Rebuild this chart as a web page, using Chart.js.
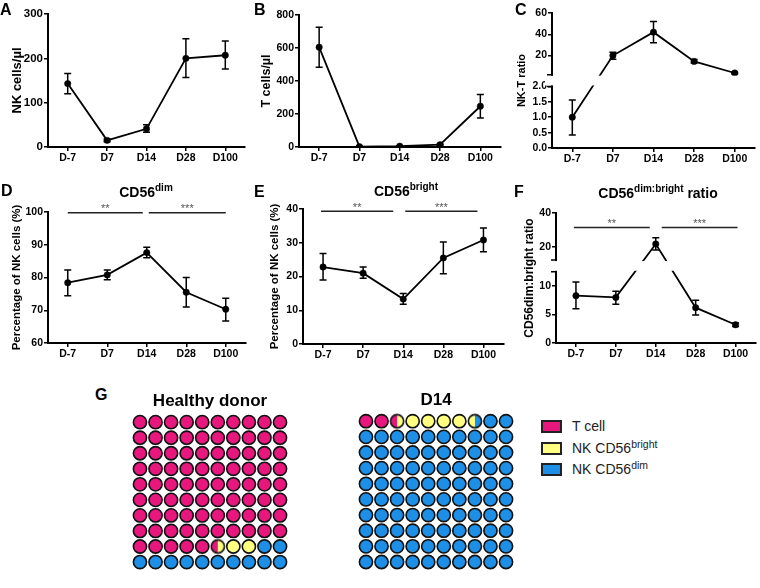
<!DOCTYPE html>
<html>
<head>
<meta charset="utf-8">
<script src="https://cdn.jsdelivr.net/npm/chart.js@4.4.0/dist/chart.umd.min.js"></script>
<style>
body { margin: 0; background: #fff; }
#wrap { position: relative; width: 760px; height: 588px; overflow: hidden; font-family: "Liberation Sans", Arial, sans-serif; color: #000; }
canvas { position: absolute; }
.let { position: absolute; font-weight: bold; font-size: 16px; line-height: 16px; }
.ttl { position: absolute; width: 220px; text-align: center; font-weight: bold; font-size: 14px; line-height: 14px; white-space: nowrap; }
.sup { position: relative; top: -6px; font-size: 10px; }
.key { position: absolute; left: 541px; width: 21px; height: 13px; box-sizing: border-box; border: 2px solid #222; }
.keytxt { position: absolute; left: 572px; font-size: 14px; line-height: 13px; color: #222; white-space: nowrap; }
.sup2 { position: relative; top: -5px; font-size: 10.5px; }
</style>
</head>
<body>
<div id="wrap">
  <canvas id="cA"></canvas>
  <canvas id="cB"></canvas>
  <canvas id="cC"></canvas>
  <canvas id="cD"></canvas>
  <canvas id="cE"></canvas>
  <canvas id="cF"></canvas>
  <canvas id="gH"></canvas>
  <canvas id="gD"></canvas>

  <div class="let" style="left:0px;top:2px">A</div>
  <div class="let" style="left:254px;top:2px">B</div>
  <div class="let" style="left:515px;top:2px">C</div>
  <div class="let" style="left:1px;top:183px">D</div>
  <div class="let" style="left:254px;top:184px">E</div>
  <div class="let" style="left:514px;top:184px">F</div>
  <div class="let" style="left:95px;top:387px">G</div>

  <div class="ttl" style="left:36px;top:185px">CD56<span class="sup">dim</span></div>
  <div class="ttl" style="left:296px;top:184px">CD56<span class="sup">bright</span></div>
  <div class="ttl" style="left:548px;top:186px">CD56<span class="sup">dim:bright</span> ratio</div>

  <div class="key" style="top:420px;background:#E8177D"></div>
  <div class="keytxt" style="top:420px">T cell</div>
  <div class="key" style="top:442px;background:#FFFF80"></div>
  <div class="keytxt" style="top:442px">NK CD56<span class="sup2">bright</span></div>
  <div class="key" style="top:463px;background:#1E8FE6"></div>
  <div class="keytxt" style="top:463px">NK CD56<span class="sup2">dim</span></div>
</div>

<script>
Chart.defaults.font.family = '"Liberation Sans", Arial, sans-serif';
Chart.defaults.color = '#000';

// ---- data ----
var days = ['D-7', 'D7', 'D14', 'D28', 'D100'];

var nkCells = [143, 15, 41, 200, 207];
var nkLow   = [120, 12, 33, 157, 176];
var nkHigh  = [166, 18, 50, 244, 239];

var tCells = [605, 2, 5, 14, 247];
var tLow   = [483, 0, 3, 10, 176];
var tHigh  = [726, 4, 8, 18, 318];

var nkTRatio = [1.0, 20, 42, 14.5, 3.6];
var nkTLow   = [0.42, 16.5, 32, 13, 3];
var nkTHigh  = [1.56, 23, 52, 16.2, 4.2];
var nkTTicks = [0, 0.5, 1, 1.5, 2, 20, 40, 60];

var dimPct  = [78.4, 80.8, 87.6, 75.5, 70.3];
var dimLow  = [74.4, 79.3, 86.0, 71.0, 66.7];
var dimHigh = [82.3, 82.3, 89.2, 80.0, 73.7];

var brightPct  = [22.8, 21.0, 13.3, 25.5, 30.8];
var brightLow  = [19.0, 19.5, 11.8, 20.8, 27.3];
var brightHigh = [26.8, 22.8, 15.0, 30.2, 34.4];

var dimBright      = [8.3, 8.0, 21.9, 6.2, 3.2];
var dimBrightLow   = [6.0, 6.8, 18.4, 4.9, 2.9];
var dimBrightHigh  = [10.7, 9.1, 25.5, 7.5, 3.5];
var dimBrightTicks = [0, 5, 10, 20, 40];

// significance bars: [from index, to index, y value, label]
var sigDim    = [[0, 1.9, 99.8, '**'], [2.05, 4, 99.8, '***']];
var sigBright = [[-0.05, 1.75, 39.3, '**'], [2.05, 3.85, 39.3, '***']];
var sigRatio  = [[-0.05, 1.85, 31.5, '**'], [2.15, 4.05, 31.5, '***']];

// waffle composition (% of 100 dots): T cell, NK CD56bright, NK CD56dim
var healthyMix = [85.5, 2.5, 12];
var d14Mix     = [2.5, 5, 92.5];

var cellColors = ['#E8177D', '#FFFF80', '#1E8FE6'];

// ---- y scale with a break (GraphPad style) ----
class BrokenScale extends Chart.LinearScale {
  buildTicks() {
    return this.options.brk.ticks.map(function(v) { return { value: v }; });
  }
  gapPixels() {
    var b = this.options.brk, h = this.bottom - this.top;
    var lowTop = this.bottom - h * b.lowFrac;
    return [lowTop - h * b.gapFrac, lowTop];
  }
  getPixelForValue(v) {
    var b = this.options.brk, g = this.gapPixels();
    if (v <= b.lowMax) return this.bottom - (v - this.min) / (b.lowMax - this.min) * (this.bottom - g[1]);
    return g[0] - (v - b.highMin) / (this.max - b.highMin) * (g[0] - this.top);
  }
  getValueForPixel(p) {
    var b = this.options.brk, g = this.gapPixels();
    if (p >= g[1]) return this.min + (this.bottom - p) / (this.bottom - g[1]) * (b.lowMax - this.min);
    return b.highMin + (g[0] - p) / (g[0] - this.top) * (this.max - b.highMin);
  }
}
BrokenScale.id = 'broken';
BrokenScale.defaults = Chart.LinearScale.defaults;
Chart.register(BrokenScale);

function errorBars(low, high) {
  return {
    id: 'errorBars',
    afterDatasetsDraw: function(chart) {
      var ctx = chart.ctx, ys = chart.scales.y;
      var pts = chart.getDatasetMeta(0).data;
      ctx.save();
      ctx.strokeStyle = '#000';
      ctx.lineWidth = 1.5;
      pts.forEach(function(p, i) {
        var y1 = ys.getPixelForValue(low[i]), y2 = ys.getPixelForValue(high[i]);
        ctx.beginPath();
        ctx.moveTo(p.x, y1); ctx.lineTo(p.x, y2);
        ctx.moveTo(p.x - 3.5, y1); ctx.lineTo(p.x + 3.5, y1);
        ctx.moveTo(p.x - 3.5, y2); ctx.lineTo(p.x + 3.5, y2);
        ctx.stroke();
      });
      ctx.restore();
    }
  };
}

function sigBars(bars) {
  return {
    id: 'sigBars',
    afterDraw: function(chart) {
      var ctx = chart.ctx, xs = chart.scales.x, ys = chart.scales.y;
      ctx.save();
      bars.forEach(function(b) {
        var x1 = xs.getPixelForValue(b[0]), x2 = xs.getPixelForValue(b[1]);
        var y = ys.getPixelForValue(b[2]);
        ctx.strokeStyle = '#222';
        ctx.lineWidth = 1.5;
        ctx.beginPath(); ctx.moveTo(x1, y); ctx.lineTo(x2, y); ctx.stroke();
        ctx.fillStyle = '#555';
        ctx.font = '11px "Liberation Sans", Arial, sans-serif';
        ctx.textAlign = 'center';
        ctx.textBaseline = 'alphabetic';
        ctx.fillText(b[3], (x1 + x2) / 2, y - 0.5);
      });
      ctx.restore();
    }
  };
}

var brokenAxis = {
  id: 'brokenAxis',
  afterDraw: function(chart) {
    var ys = chart.scales.y;
    if (!ys.gapPixels) return;
    var g = ys.gapPixels(), a = chart.chartArea, ctx = chart.ctx;
    ctx.save();
    ctx.fillStyle = '#fff';
    ctx.fillRect(a.left - 7, g[0] + 1, a.right - a.left + 8, g[1] - g[0] - 2);
    ctx.strokeStyle = '#000';
    ctx.lineWidth = 1.5;
    ctx.beginPath();
    ctx.moveTo(a.left - 5, g[0]); ctx.lineTo(a.left + 1, g[0]);
    ctx.moveTo(a.left - 5, g[1]); ctx.lineTo(a.left + 1, g[1]);
    ctx.stroke();
    ctx.restore();
  }
};

// box = canvas [left, top, w, h], area = plot area [left, top, right, bottom] in page px
function makeLine(id, box, area, values, low, high, opt) {
  var cv = document.getElementById(id);
  cv.width = box[2]; cv.height = box[3];
  cv.style.left = box[0] + 'px'; cv.style.top = box[1] + 'px';
  var plugins = [errorBars(low, high)];
  if (opt.sig) plugins.push(sigBars(opt.sig));
  if (opt.brk) plugins.push(brokenAxis);

  return new Chart(cv, {
    type: 'line',
    data: {
      labels: days,
      datasets: [{
        data: values,
        borderColor: '#000',
        borderWidth: 1.8,
        pointRadius: 3.2,
        pointBorderWidth: 0.5,
        pointBackgroundColor: '#000',
        pointBorderColor: '#000',
        tension: 0,
        fill: false
      }]
    },
    options: {
      responsive: false,
      animation: false,
      devicePixelRatio: 1,
      layout: { padding: { left: 0, bottom: 0, top: area[1] - box[1], right: box[0] + box[2] - area[2] } },
      plugins: { legend: { display: false }, tooltip: { enabled: false } },
      scales: {
        x: {
          type: 'category',
          offset: true,
          ticks: { font: { size: 10.5, weight: 'bold' }, padding: 1, maxRotation: 0, autoSkip: false },
          grid: { drawOnChartArea: false, offset: false, tickLength: 4, color: '#000', lineWidth: 1.5 },
          border: { color: '#000', width: 2 },
          afterFit: function(s) { s.height = box[1] + box[3] - area[3]; }
        },
        y: {
          type: opt.brk ? 'broken' : 'linear',
          min: opt.min,
          max: opt.max,
          brk: opt.brk,
          ticks: {
            stepSize: opt.step,
            autoSkip: false,
            padding: 1,
            font: { size: opt.tickSize || 10.5, weight: 'bold' },
            callback: opt.fmt || function(v) { return v; }
          },
          grid: { drawOnChartArea: false, tickLength: 4, color: '#000', lineWidth: 1.5 },
          border: { color: '#000', width: 2 },
          title: {
            display: true,
            text: opt.title,
            font: { size: opt.titleSize, weight: 'bold' },
            padding: { top: opt.titleX - opt.titleSize * 0.6, bottom: 0 }
          },
          afterFit: function(s) { s.width = area[0] - box[0]; }
        }
      }
    },
    plugins: plugins
  });
}

makeLine('cA', [0, 0, 250, 170], [48, 14, 245, 147], nkCells, nkLow, nkHigh,
  { min: 0, max: 300, step: 100, title: 'NK cells/\u00b5l', titleSize: 13, titleX: 17, tickSize: 11.5 });

makeLine('cB', [250, 0, 255, 170], [299, 15, 503, 147], tCells, tLow, tHigh,
  { min: 0, max: 800, step: 200, title: 'T cells/\u00b5l', titleSize: 12.5, titleX: 17 });

makeLine('cC', [505, 0, 255, 170], [552, 13, 755, 148], nkTRatio, nkTLow, nkTHigh,
  { min: 0, max: 60, title: 'NK-T ratio', titleSize: 11, titleX: 17,
    brk: { ticks: nkTTicks, lowMax: 2, highMin: 2, lowFrac: 0.456, gapFrac: 0.087 },
    fmt: function(v) { return v <= 2 ? v.toFixed(1) : v; } });

makeLine('cD', [0, 175, 250, 195], [48, 212, 246, 343], dimPct, dimLow, dimHigh,
  { min: 60, max: 100, step: 10, title: 'Percentage of NK cells (%)', titleSize: 11.5, titleX: 17, sig: sigDim });

makeLine('cE', [250, 175, 258, 195], [303, 209, 507, 344], brightPct, brightLow, brightHigh,
  { min: 0, max: 40, step: 10, title: 'Percentage of NK cells (%)', titleSize: 11.5, titleX: 25, sig: sigBright });

makeLine('cF', [505, 175, 255, 195], [556, 213, 759, 343], dimBright, dimBrightLow, dimBrightHigh,
  { min: 0, max: 40, title: 'CD56dim:bright ratio', titleSize: 12, titleX: 25, sig: sigRatio,
    brk: { ticks: dimBrightTicks, lowMax: 12.5, highMin: 12.5, lowFrac: 0.548, gapFrac: 0.09 } });

// ---- waffle charts ----
function splitDot(left, right, frac) {
  var r = 6.6, s = 18, c = document.createElement('canvas');
  c.width = s; c.height = s;
  var g = c.getContext('2d');
  g.beginPath();
  g.arc(s / 2, s / 2, r, 0, 2 * Math.PI);
  g.fillStyle = right;
  g.fill();
  g.save();
  g.clip();
  g.fillStyle = left;
  g.fillRect(0, 0, s / 2 - r + 2 * r * frac, s);
  g.restore();
  g.lineWidth = 1.6;
  g.strokeStyle = '#111';
  g.stroke();
  return c;
}

function makeWaffle(id, left, mix, title, titlePad) {
  var cv = document.getElementById(id);
  cv.width = 172; cv.height = 198;
  cv.style.left = left + 'px'; cv.style.top = '380px';
  var cum = [mix[0], mix[0] + mix[1], mix[0] + mix[1] + mix[2]];
  function typeAt(p) {
    for (var k = 0; k < 3; k++) if (p < cum[k]) return k;
    return 2;
  }
  var pts = [], colors = [], styles = [];
  for (var i = 0; i < 100; i++) {
    var a = typeAt(i + 0.01), b = typeAt(i + 0.99);
    pts.push({ x: i % 10, y: Math.floor(i / 10) });
    colors.push(cellColors[a]);
    styles.push(a === b ? 'circle' : splitDot(cellColors[a], cellColors[b], cum[a] - i));
  }
  return new Chart(cv, {
    type: 'scatter',
    data: {
      datasets: [{
        data: pts,
        backgroundColor: colors,
        pointStyle: styles,
        pointRadius: 6.6,
        borderColor: '#111',
        borderWidth: 1.6,
        clip: false
      }]
    },
    options: {
      responsive: false,
      animation: false,
      devicePixelRatio: 1,
      layout: { padding: 0 },
      plugins: {
        legend: { display: false },
        tooltip: { enabled: false },
        title: { display: true, text: title, color: '#000', font: { size: 17, weight: 'bold' }, padding: { top: titlePad, bottom: 3 } }
      },
      scales: {
        x: { min: -0.5, max: 9.5, display: false },
        y: { min: -0.5, max: 9.5, reverse: true, display: false }
      }
    }
  });
}

makeWaffle('gH', 124, healthyMix, 'Healthy donor', 11);
makeWaffle('gD', 350, d14Mix, 'D14', 10);
</script>
</body>
</html>
